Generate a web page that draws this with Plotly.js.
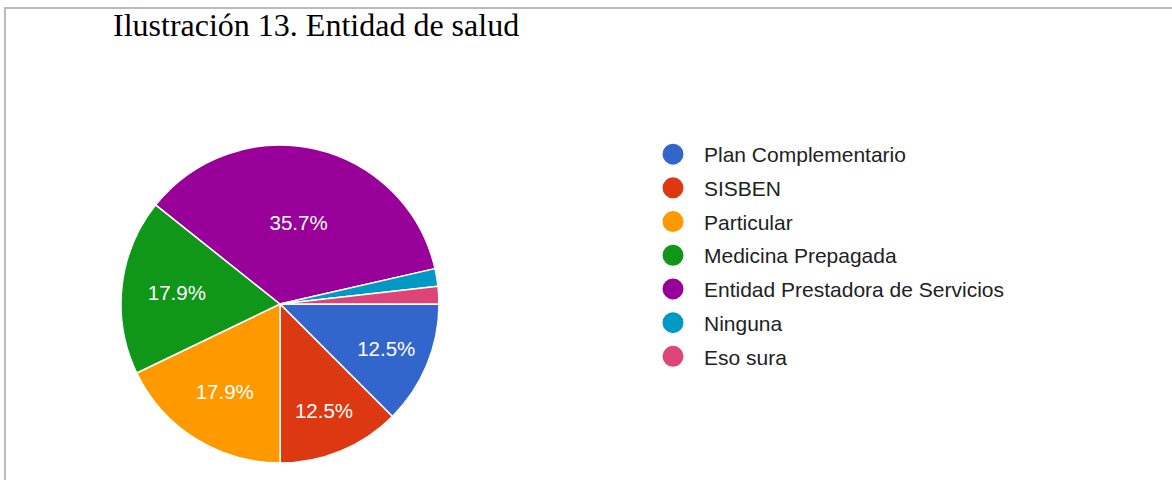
<!DOCTYPE html>
<html>
<head>
<meta charset="utf-8">
<script src="https://cdn.plot.ly/plotly-3.0.1.min.js"></script>
<style>html,body{margin:0;padding:0;background:#fff;}#chart{width:1172px;height:480px;}</style>
</head>
<body>
<div id="chart"></div>
<script>
const categories = ["Plan Complementario", "SISBEN", "Particular", "Medicina Prepagada", "Entidad Prestadora de Servicios", "Ninguna", "Eso sura"];
const counts = [7, 7, 10, 10, 20, 1, 1];
const colors = ["#3366cc", "#dc3912", "#ff9900", "#109618", "#990099", "#0099c6", "#dd4477"];
const titleText = "Ilustración 13. Entidad de salud";

const W = 1172, H = 480;
const total = counts.reduce((a, b) => a + b, 0);
const labelTemplates = counts.map(c => (c / total >= 0.05 ? "%{percent:.1%}" : ""));

const pie = {
  type: "pie",
  labels: categories,
  values: counts,
  sort: false,
  direction: "clockwise",
  rotation: 90,
  marker: {colors: colors, line: {color: "#ffffff", width: 1.5}},
  texttemplate: labelTemplates,
  textposition: "inside",
  insidetextorientation: "horizontal",
  insidetextfont: {family: "Liberation Sans, Arial, sans-serif", size: 20.5, color: "#ffffff"},
  hoverinfo: "none",
  showlegend: false,
  domain: {x: [120 / W, 440 / W], y: [1 - 463 / H, 1 - 145 / H]}
};

const legendTraces = categories.map((name, i) => ({
  type: "scatter",
  mode: "markers",
  x: [null], y: [null],
  name: name,
  legendgroup: "g" + i,
  marker: {color: colors[i], size: 16, symbol: "circle", line: {color: colors[i], width: 5}},
  hoverinfo: "none",
  showlegend: true
}));

const layout = {
  width: W, height: H,
  margin: {l: 0, r: 0, t: 0, b: 0},
  paper_bgcolor: "#ffffff",
  plot_bgcolor: "rgba(0,0,0,0)",
  title: {
    text: titleText,
    font: {family: "Liberation Serif, 'Times New Roman', serif", size: 32, color: "#000000"},
    x: 113 / W, xanchor: "left", xref: "paper",
    y: 1 - 25 / H, yanchor: "middle", yref: "container"
  },
  xaxis: {visible: false, domain: [0.99, 1]},
  yaxis: {visible: false, domain: [0.99, 1]},
  showlegend: true,
  legend: {
    x: 642 / W, xanchor: "left",
    y: 1 - 134 / H, yanchor: "top",
    font: {family: "Liberation Sans, Arial, sans-serif", size: 21, color: "#222222"},
    traceorder: "grouped",
    tracegroupgap: 3.4,
    itemwidth: 52,
    itemclick: false, itemdoubleclick: false,
    bgcolor: "rgba(0,0,0,0)"
  },
  shapes: [
    {type: "line", xref: "paper", yref: "paper", x0: 4 / W, x1: 1, y0: 1 - 8 / H, y1: 1 - 8 / H, line: {color: "#bbbbbb", width: 2}},
    {type: "line", xref: "paper", yref: "paper", x0: 5 / W, x1: 5 / W, y0: 0, y1: 1 - 7 / H, line: {color: "#bbbbbb", width: 2}}
  ]
};

Plotly.newPlot("chart", [pie].concat(legendTraces), layout, {displayModeBar: false, staticPlot: true});
</script>
</body>
</html>
